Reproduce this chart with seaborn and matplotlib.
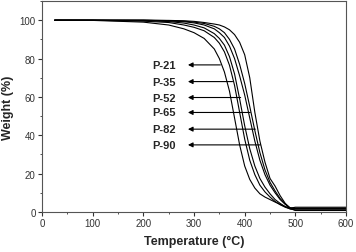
import matplotlib
matplotlib.use("Agg")
import matplotlib.pyplot as plt
from matplotlib.ticker import MultipleLocator
import seaborn as sns
import pandas as pd

# ---- data ----
temperature = [25, 100, 200, 250, 280, 300, 320, 340, 350, 360, 370, 380, 390,
               400, 410, 420, 430, 440, 450, 460, 470, 480, 490, 500, 550, 600]

w_p21 = [100, 99.9, 99.0, 97.5, 95.5, 93.5, 90.5, 85, 80, 73, 63, 49, 35,
         24, 17, 12.5, 9.5, 7.8, 6.5, 5.2, 4.0, 2.8, 2.2, 2.0, 2.0, 2.0]
w_p35 = [100, 100, 99.5, 98.8, 97.5, 96.3, 94.5, 91, 88, 83.5, 76.5, 66, 52,
         38, 27, 19.5, 14, 10.5, 7.8, 5.5, 3.8, 2.5, 1.6, 1.5, 1.5, 1.5]
w_p52 = [100, 100, 99.8, 99.3, 98.5, 97.5, 96, 93, 90.5, 87, 81, 72, 59,
         45, 33, 24, 17.5, 13, 9.5, 6.5, 4.5, 2.8, 1.6, 1.0, 1.0, 1.0]
w_p65 = [100, 100, 100, 99.6, 99.2, 98.6, 97.5, 95.5, 93.5, 91, 86.5, 80, 71,
         61, 49, 37, 27, 19.5, 14, 10, 6.5, 4.0, 2.0, 2.5, 2.5, 2.5]
w_p82 = [100, 100, 100, 99.8, 99.5, 99, 98.3, 96.8, 95.5, 93.5, 90, 85, 77,
         67, 55, 42.5, 31, 22, 15.5, 11, 7, 4.2, 2.0, 1.8, 1.8, 1.8]
w_p90 = [100, 100, 100, 99.9, 99.7, 99.4, 98.8, 98, 97.5, 96.5, 95, 92.5, 88.5,
         82, 70, 52, 37, 26, 17.5, 13.5, 8.5, 4.5, 2.0, 0.8, 0.8, 0.8]

samples = ["P-21", "P-35", "P-52", "P-65", "P-82", "P-90"]
series = [w_p21, w_p35, w_p52, w_p65, w_p82, w_p90]

# arrow annotation: label level (weight) and the temperature where it meets its curve
label_weight = [76.7, 68.0, 59.7, 51.9, 43.2, 35.0]
arrow_tail_temp = [352, 376, 392, 411, 421, 431]
arrow_head_temp = 288
label_temp = 217

x_ticks = [0, 100, 200, 300, 400, 500, 600]
y_ticks = [0, 20, 40, 60, 80, 100]

# ---- build table ----
rows = []
for name, vals in zip(samples, series):
    for t, w in zip(temperature, vals):
        rows.append({"Temperature": t, "Weight": w, "Sample": name})
df = pd.DataFrame(rows)

sns.set_style("ticks")
plt.rcParams["font.family"] = ["Liberation Sans", "DejaVu Sans"]

fig = plt.figure(figsize=(3.56, 2.53), dpi=100)
ax = fig.add_axes([0.118, 0.158, 0.854, 0.834])

sns.lineplot(data=df, x="Temperature", y="Weight", units="Sample",
             estimator=None, color="black", lw=0.8, ax=ax, legend=False)

for name, yv, xt in zip(samples, label_weight, arrow_tail_temp):
    ax.annotate("", xy=(arrow_head_temp, yv), xytext=(xt, yv),
                arrowprops=dict(arrowstyle="-|>", color="black", lw=0.8,
                                mutation_scale=7, shrinkA=0, shrinkB=0))
    ax.text(label_temp, yv, name, fontsize=8, fontweight="bold",
            ha="left", va="center")

ax.set_xlim(0, 600)
ax.set_ylim(0, 110)
ax.set_xticks(x_ticks)
ax.set_yticks(y_ticks)
ax.xaxis.set_minor_locator(MultipleLocator(50))
ax.yaxis.set_minor_locator(MultipleLocator(10))
ax.tick_params(which="major", length=3, width=0.8, labelsize=7, pad=1.5,
               colors="#333333")
ax.tick_params(which="minor", length=1.5, width=0.6, colors="#333333")
for s in ax.spines.values():
    s.set_visible(True)
    s.set_linewidth(0.8)
    s.set_color("#555555")

ax.set_xlabel("Temperature (°C)", fontsize=9, fontweight="bold", labelpad=5)
ax.set_ylabel("Weight (%)", fontsize=9, fontweight="bold", labelpad=4)

fig.savefig("out.png", dpi=100)
